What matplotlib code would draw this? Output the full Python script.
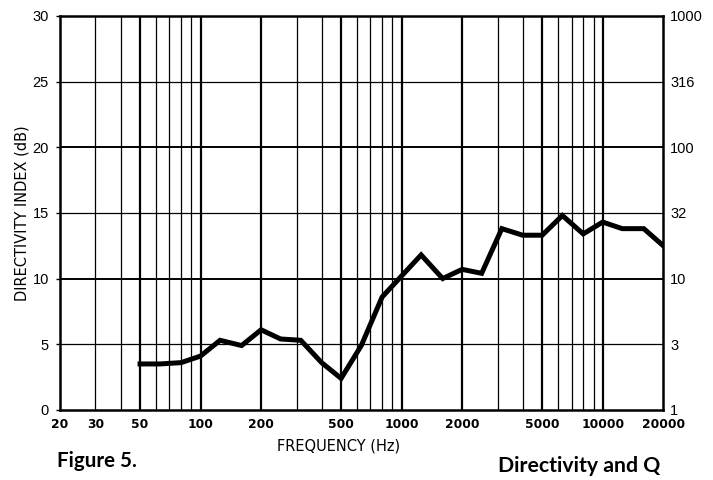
import matplotlib
matplotlib.use("Agg")
import matplotlib.pyplot as plt

# third-octave centre frequencies and directivity index
freq = [50, 63, 80, 100, 125, 160, 200, 250, 315, 400, 500, 630, 800, 1000,
        1250, 1600, 2000, 2500, 3150, 4000, 5000, 6300, 8000, 10000, 12500,
        16000, 20000]
di = [3.5, 3.5, 3.6, 4.1, 5.3, 4.9, 6.1, 5.4, 5.3, 3.6, 2.4, 4.9, 8.6, 10.2,
      11.8, 10.0, 10.7, 10.4, 13.8, 13.3, 13.3, 14.8, 13.4, 14.3, 13.8,
      13.8, 12.5]

x_ticks = [20, 30, 50, 100, 200, 500, 1000, 2000, 5000, 10000, 20000]
y_ticks = [0, 5, 10, 15, 20, 25, 30]
q_labels = ['1', '3', '10', '32', '100', '316', '1000']
heavy_f = [50, 100, 200, 500, 1000, 2000, 5000, 10000]

fig = plt.figure(figsize=(7.13, 4.8), dpi=100)
ax = fig.add_axes([0.0842, 0.146, 0.846, 0.821])

# grid: every 1..9 x decade, some lines heavier
for dec in [10, 100, 1000, 10000]:
    for m in range(1, 10):
        f = m * dec
        if f <= 20 or f >= 20000:
            continue
        lw = 1.6 if f in heavy_f else 0.9
        ax.axvline(f, color='black', lw=lw, zorder=1)
for y in y_ticks[1:-1]:
    lw = 1.4 if y % 10 == 0 else 0.9
    ax.axhline(y, color='black', lw=lw, zorder=1)

ax.plot(freq, di, color='black', lw=3.6, solid_joinstyle='miter', zorder=3)

ax.set_xscale('log')
ax.set_xlim(20, 20000)
ax.set_ylim(0, 30)
ax.set_xticks(x_ticks)
ax.set_xticklabels([str(t) for t in x_ticks], fontsize=8.8, fontweight='bold')
ax.minorticks_off()
ax.set_yticks(y_ticks)
ax.set_yticklabels([str(t) for t in y_ticks], fontsize=10.5,
                   family='Liberation Sans')
ax.tick_params(axis='x', length=0, pad=6)
ax.tick_params(axis='y', length=3, width=1, pad=5)
for s in ax.spines.values():
    s.set_linewidth(1.8)

ax.set_xlabel('FREQUENCY (Hz)', fontsize=10.5)
ax.xaxis.set_label_coords(0.461, -0.072)
ax.set_ylabel('DIRECTIVITY INDEX (dB)', fontsize=10.5)
ax.yaxis.set_label_coords(-0.05, 0.5)

ax2 = ax.twinx()
ax2.set_ylim(0, 30)
ax2.set_yticks(y_ticks)
ax2.set_yticklabels(q_labels, fontsize=10.5, family='Liberation Sans')
ax2.tick_params(axis='y', length=0, pad=5)
for s in ax2.spines.values():
    s.set_visible(False)

fig.text(0.08, 0.028, 'Figure 5.', fontsize=14.8, fontweight='bold',
         family='Lato', ha='left', va='baseline')
fig.text(0.926, 0.017, 'Directivity and Q', fontsize=15.3, fontweight='bold',
         family='Lato', ha='right', va='baseline')

fig.savefig('out.png', dpi=100)
